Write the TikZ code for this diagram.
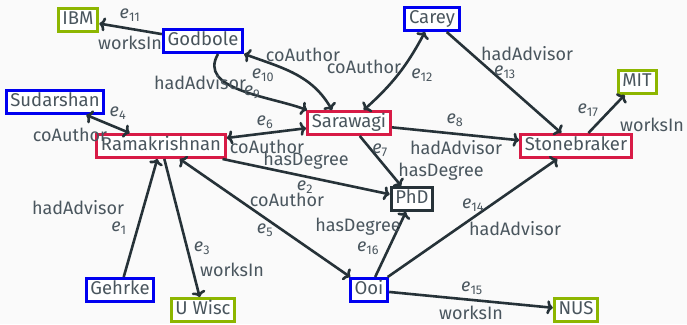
\documentclass[tikz,border=0pt]{standalone}
\usepackage{fontspec}
\setmainfont{Fira Sans}
\usetikzlibrary{arrows.meta}
\definecolor{bg}{HTML}{FAFAFA}
\definecolor{edgec}{HTML}{263238}
\definecolor{txt}{HTML}{4A565E}
\definecolor{bluec}{HTML}{0000F0}
\definecolor{greenc}{HTML}{8DB600}
\definecolor{redc}{HTML}{D81B46}
\newcommand{\ed}[1]{\textit{e}\textsubscript{#1}}
\tikzset{
  ent/.style={draw, line width=3pt, fill=white, text=txt, inner xsep=4.3pt, inner ysep=3pt,
    text height=13pt, text depth=4pt, font=\fontsize{18.5}{20}\selectfont},
  person/.style={ent, draw=bluec},
  org/.style={ent, draw=greenc},
  core/.style={ent, draw=redc},
  deg/.style={ent, draw=edgec},
  tip/.style={},
  rel/.style={draw=edgec, line width=2.6pt, -{To[length=6pt,width=14pt]}},
  brel/.style={draw=edgec, line width=2.6pt, {To[length=6pt,width=14pt]}-{To[length=6pt,width=14pt]}},
  lab/.style={text=txt, inner sep=0pt, font=\fontsize{18}{20}\selectfont},
}
\begin{document}
\begin{tikzpicture}[x=1pt,y=-1pt]
\fill[bg] (0,0) rectangle (687,324);
\useasboundingbox (0,0) rectangle (687,324);
% nodes
\node[org] (ibm) at (78,20) {IBM};
\node[person] (god) at (203,41) {Godbole};
\node[person] (car) at (432,19) {Carey};
\node[person] (sud) at (55,102) {Sudarshan};
\node[core] (ram) at (161,146) {Ramakrishnan};
\node[core] (sar) at (349,123) {Sarawagi};
\node[core] (sto) at (576,146) {Stonebraker};
\node[org] (mit) at (637,82) {MIT};
\node[deg] (phd) at (412,199) {PhD};
\node[person] (geh) at (120,290) {Gehrke};
\node[org] (wis) at (203,310) {U Wisc};
\node[person] (ooi) at (369,290) {Ooi};
\node[org] (nus) at (576,310) {NUS};
% edges
\draw[rel] (geh) -- (ram);
\draw[rel] (ram) -- (wis);
\draw[brel] (ooi) -- (ram);
\draw[rel] (ram) -- (phd);
\draw[brel] (ram) -- (sar);
\draw[brel] (sud) -- (ram);
\draw[rel] (god) -- (ibm);
\draw[rel] ([xshift=15pt]god.south) to[out=-120, in=160] ([xshift=1pt]sar.north west);
\draw[brel] (god.south east) to[out=-20, in=120] ([xshift=-17pt]sar.north);
\draw[brel] (car) to[bend left=10] (sar);
\draw[rel] (car) -- (sto);
\draw[rel] (sar) -- (sto);
\draw[rel] (sar) -- (phd);
\draw[rel] (sto) -- (mit);
\draw[rel] (ooi) -- (sto);
\draw[rel] (ooi) -- (phd);
\draw[rel] (ooi) -- (nus);
% labels
\node[lab] (l11a) at (130,15) {\ed{11}};
\node[lab] (l11b) at (130,43) {worksIn};
\node[lab] (l10b) at (303,55) {coAuthor};
\node[lab] (l10a) at (263,75) {\ed{10}};
\node[lab] (l9b) at (200,83) {hadAdvisor};
\node[lab] (l9a) at (252,92) {\ed{9}};
\node[lab] (l12b) at (364,67) {coAuthor};
\node[lab] (l12a) at (422,75) {\ed{12}};
\node[lab] (l13b) at (527,54) {hadAdvisor};
\node[lab] (l13a) at (505,72) {\ed{13}};
\node[lab] (l17a) at (588,110) {\ed{17}};
\node[lab] (l17b) at (652,125) {worksIn};
\node[lab] (l8a) at (455,120) {\ed{8}};
\node[lab] (l8b) at (456,148) {hadAdvisor};
\node[lab] (l7a) at (380,150) {\ed{7}};
\node[lab] (l7b) at (441,172) {hasDegree};
\node[lab] (l6a) at (265,122) {\ed{6}};
\node[lab] (l6b) at (267,147) {coAuthor};
\node[lab] (l2b) at (306,161) {hasDegree};
\node[lab] (l2a) at (305,187) {\ed{2}};
\node[lab] (l5b) at (287,200) {coAuthor};
\node[lab] (l5a) at (265,230) {\ed{5}};
\node[lab] (l4a) at (118,113) {\ed{4}};
\node[lab] (l4b) at (70,135) {coAuthor};
\node[lab] (l1b) at (78,208) {hadAdvisor};
\node[lab] (l1a) at (119,228) {\ed{1}};
\node[lab] (l3a) at (202,248) {\ed{3}};
\node[lab] (l3b) at (232,270) {worksIn};
\node[lab] (l16b) at (358,227) {hasDegree};
\node[lab] (l16a) at (368,248) {\ed{16}};
\node[lab] (l14a) at (473,205) {\ed{14}};
\node[lab] (l14b) at (515,229) {hadAdvisor};
\node[lab] (l15a) at (472,288) {\ed{15}};
\node[lab] (l15b) at (471,313) {worksIn};
\end{tikzpicture}
\end{document}
